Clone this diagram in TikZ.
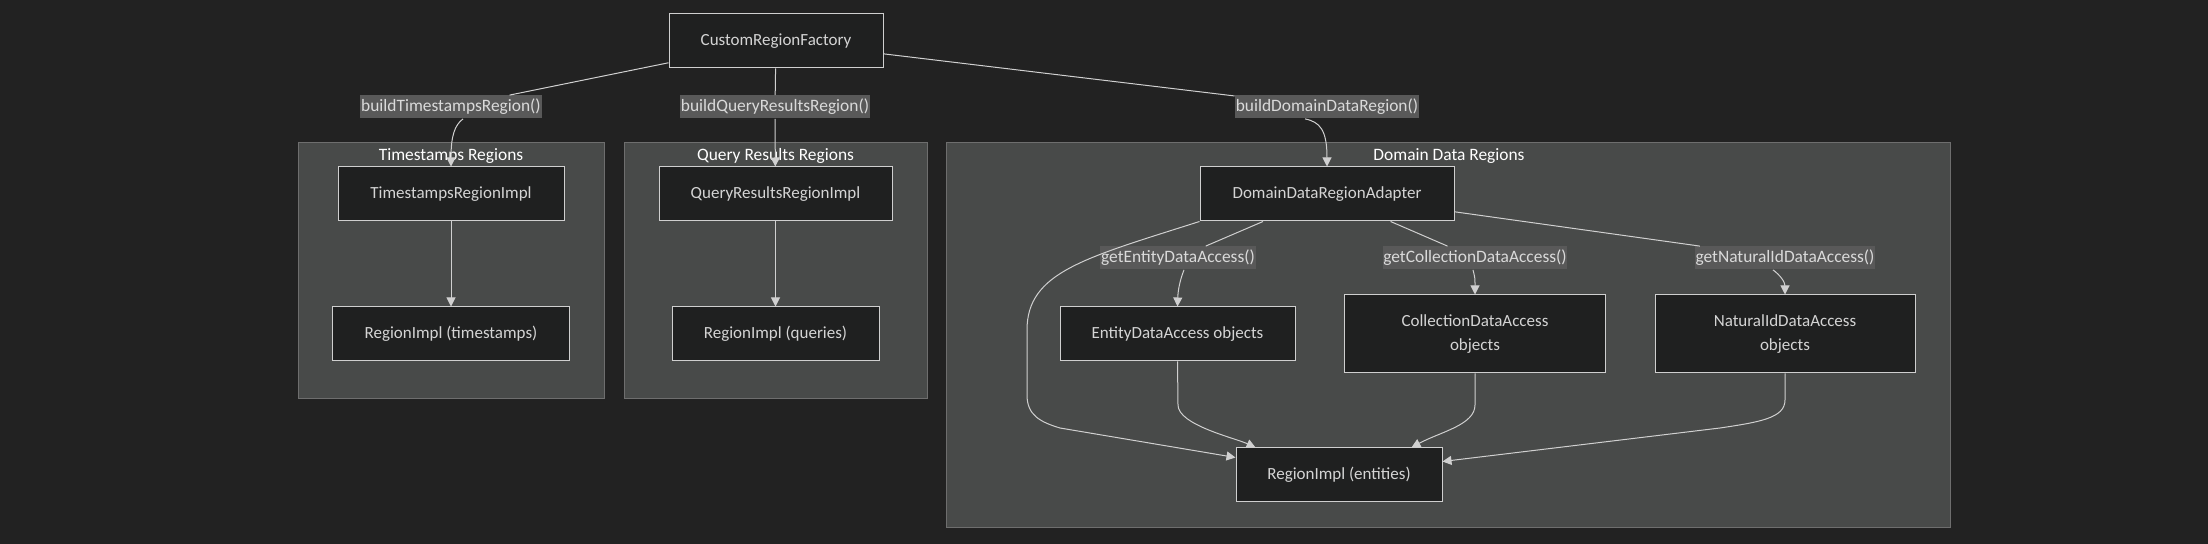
\documentclass[tikz,border=0pt]{standalone}
\usepackage{fontspec}
\setmainfont{Carlito}
\usetikzlibrary{arrows.meta,calc}
\definecolor{bg}{HTML}{222222}
\definecolor{clusterfill}{HTML}{484A49}
\definecolor{clusterborder}{HTML}{6E6E6E}
\definecolor{nodefill}{HTML}{1F2020}
\definecolor{nodeborder}{HTML}{CFCFCF}
\definecolor{nodetext}{HTML}{D4D4D4}
\definecolor{labelbg}{HTML}{595959}
\definecolor{labeltext}{HTML}{DADADA}
\definecolor{edgecol}{HTML}{D0D0D0}
\begin{document}
\begin{tikzpicture}[x=0.5pt,y=-0.5pt,
  box/.style={draw=nodeborder, fill=nodefill, text=nodetext, line width=0.5pt, inner sep=0pt, align=center, font=\fontsize{8.5}{12}\selectfont, minimum height=27pt},
  elabel/.style={fill=labelbg, text=labeltext, inner xsep=0.4pt, inner ysep=0pt, minimum height=11.5pt, font=\fontsize{8.7}{10}\selectfont},
  cluster/.style={fill=clusterfill, draw=clusterborder, line width=0.5pt, anchor=north west, inner sep=0pt},
  ctitle/.style={text=white, font=\fontsize{8.7}{10}\selectfont, inner sep=0pt},
  edge/.style={draw=edgecol, line width=0.5pt},
  arr/.style={edge, -{Triangle[length=4.5pt,width=4.5pt]}}]
\fill[bg] (0,0) rectangle (2208,544);
\useasboundingbox (0,0) rectangle (2208,544);
% clusters
\node[cluster, minimum width=153pt, minimum height=128pt] (tsc) at (298,142) {};
\node[cluster, minimum width=151.5pt, minimum height=128pt] (qrc) at (624,142) {};
\node[cluster, minimum width=502pt, minimum height=192.5pt] (ddc) at (946,142) {};
\node[ctitle] (tst) at (451,156) {Timestamps Regions};
\node[ctitle] (qrt) at (775.5,156) {Query Results Regions};
\node[ctitle] (ddt) at (1449,156) {Domain Data Regions};
% nodes
\node[box, minimum width=107pt] (crf) at (776,41) {CustomRegionFactory};
\node[box, minimum width=113pt] (tri) at (451,194) {TimestampsRegionImpl};
\node[box, minimum width=118.5pt] (trt) at (451,334) {RegionImpl (timestamps)};
\node[box, minimum width=116.5pt] (qri) at (775.5,194) {QueryResultsRegionImpl};
\node[box, minimum width=103.5pt] (qrq) at (775.5,334) {RegionImpl (queries)};
\node[box, minimum width=127pt] (dda) at (1327,194) {DomainDataRegionAdapter};
\node[box, minimum width=117.5pt] (eda) at (1177.5,334) {EntityDataAccess objects};
\node[box, minimum width=130.5pt, minimum height=39pt] (cda) at (1475,334) {CollectionDataAccess\\objects};
\node[box, minimum width=130pt, minimum height=39pt] (nda) at (1785,334) {NaturalIdDataAccess\\objects};
\node[box, minimum width=103pt] (rie) at (1339,475) {RegionImpl (entities)};
% edge labels
\node[elabel] (l1) at (451,107) {buildTimestampsRegion()};
\node[elabel] (l2) at (775,107) {buildQueryResultsRegion()};
\node[elabel] (l3) at (1327,107) {buildDomainDataRegion()};
\node[elabel] (l4) at (1178,258) {getEntityDataAccess()};
\node[elabel] (l5) at (1475,258) {getCollectionDataAccess()};
\node[elabel] (l6) at (1785,258) {getNaturalIdDataAccess()};
% edges
\draw[edge] (crf) -- (l1);
\draw[arr] ($(l1.south)+(12,0)$) .. controls (455,125) and (451,135) .. (tri.north);
\draw[arr] (tri) -- (trt);
\draw[edge] (crf) -- (l2);
\draw[arr] (l2) -- (qri);
\draw[arr] (qri) -- (qrq);
\draw[edge] (crf) -- (l3);
\draw[arr] ($(l3.south)+(-22,0)$) .. controls (1320,122) and (1327,130) .. (dda.north);
\draw[edge] (dda) -- (l4);
\draw[arr] ($(l4.south)+(6,0)$) .. controls (1180,280) and (1178,290) .. (eda.north);
\draw[edge] (dda) -- (l5);
\draw[arr] ($(l5.south)+(-2,0)$) .. controls (1475,278) .. (cda.north);
\draw[edge] (dda) -- (l6);
\draw[arr] ($(l6.south)+(-12,0)$) .. controls (1780,275) and (1785,282) .. (nda.north);
\draw[arr] (dda.south west) .. controls (1085,258) and (1027,272) .. (1027,330) -- (1027,395) .. controls (1027,415) and (1040,422) .. (1060,428) -- ($(rie.north west)+(0,10)$);
\draw[arr] (eda.south) -- (1178,405) .. controls (1178,425) and (1235,438) .. ($(rie.north west)+(20,0)$);
\draw[arr] (cda.south) -- (1475,405) .. controls (1475,425) and (1440,432) .. ($(rie.north east)+(-31,0)$);
\draw[arr] (nda.south) -- (1785,400) .. controls (1785,418) and (1760,422) .. (1720,428) -- ($(rie.north east)+(0,14)$);
\end{tikzpicture}
\end{document}
